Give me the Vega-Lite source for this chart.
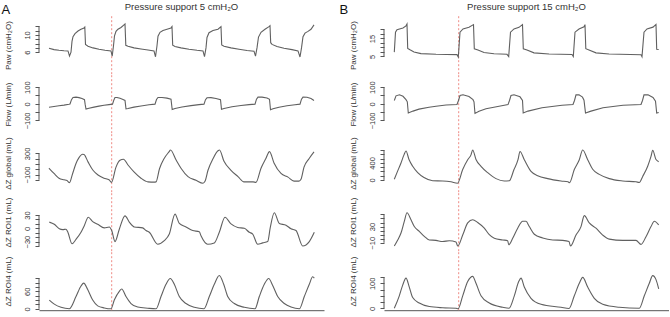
{
  "$schema": "https://vega.github.io/schema/vega-lite/v6.json",
  "background": "white",
  "padding": {"left": 1, "top": 2, "right": 0, "bottom": 0},
  "config": {
    "font": "Liberation Sans",
    "view": {"stroke": null},
    "axis": {"grid": false, "labelFont": "Liberation Sans", "titleFont": "Liberation Sans", "labelFontSize": 7.5, "titleFontSize": 8, "labelColor": "#333", "titleColor": "#333", "titleFontWeight": "normal", "tickColor": "#555", "domainColor": "#555", "labelOverlap": false, "labelFlush": false},
    "axisY": {"labelAngle": -90, "labelAlign": "center", "labelBaseline": "bottom", "tickSize": 4, "labelPadding": 3.5, "titlePadding": 11, "domain": false},
    "axisX": {"ticks": false, "labels": false, "domain": true},
    "title": {"font": "Liberation Sans", "fontWeight": "normal", "color": "#222"}
  },
  "datasets": {
    "A": [
      {"s":"paw","t":0.0,"v":6.9},{"s":"paw","t":0.5,"v":6.6},{"s":"paw","t":1.0,"v":6.45},{"s":"paw","t":1.5,"v":6.35},{"s":"paw","t":1.9,"v":6.3},{"s":"paw","t":2.05,"v":5.1},{"s":"paw","t":2.2,"v":6.0},{"s":"paw","t":2.3,"v":8.5},{"s":"paw","t":2.4,"v":9.6},{"s":"paw","t":2.6,"v":10.3},{"s":"paw","t":2.9,"v":10.9},{"s":"paw","t":3.2,"v":11.3},{"s":"paw","t":3.5,"v":11.6},{"s":"paw","t":3.58,"v":11.8},{"s":"paw","t":3.65,"v":7.8},{"s":"paw","t":3.9,"v":7.4},{"s":"paw","t":4.4,"v":7.0},{"s":"paw","t":5.0,"v":6.7},{"s":"paw","t":5.6,"v":6.45},{"s":"paw","t":6.2,"v":6.3},{"s":"paw","t":6.32,"v":5.1},{"s":"paw","t":6.45,"v":7.5},{"s":"paw","t":6.55,"v":9.8},{"s":"paw","t":6.7,"v":10.8},{"s":"paw","t":6.9,"v":11.3},{"s":"paw","t":7.2,"v":11.7},{"s":"paw","t":7.5,"v":12.3},{"s":"paw","t":7.6,"v":12.5},{"s":"paw","t":7.68,"v":7.6},{"s":"paw","t":7.9,"v":7.4},{"s":"paw","t":8.5,"v":7.0},{"s":"paw","t":9.2,"v":6.75},{"s":"paw","t":9.9,"v":6.5},{"s":"paw","t":10.5,"v":6.3},{"s":"paw","t":10.65,"v":4.95},{"s":"paw","t":10.8,"v":7.5},{"s":"paw","t":10.9,"v":9.7},{"s":"paw","t":11.1,"v":10.6},{"s":"paw","t":11.4,"v":11.0},{"s":"paw","t":11.8,"v":11.3},{"s":"paw","t":12.2,"v":11.6},{"s":"paw","t":12.3,"v":11.9},{"s":"paw","t":12.37,"v":7.6},{"s":"paw","t":12.6,"v":7.3},{"s":"paw","t":13.2,"v":7.0},{"s":"paw","t":14.0,"v":6.7},{"s":"paw","t":14.8,"v":6.45},{"s":"paw","t":15.4,"v":6.3},{"s":"paw","t":15.55,"v":5.0},{"s":"paw","t":15.7,"v":7.0},{"s":"paw","t":15.8,"v":9.4},{"s":"paw","t":16.0,"v":10.5},{"s":"paw","t":16.4,"v":11.0},{"s":"paw","t":16.9,"v":11.3},{"s":"paw","t":17.2,"v":11.9},{"s":"paw","t":17.27,"v":7.7},{"s":"paw","t":17.5,"v":7.4},{"s":"paw","t":18.2,"v":7.0},{"s":"paw","t":19.0,"v":6.7},{"s":"paw","t":19.8,"v":6.4},{"s":"paw","t":20.5,"v":6.25},{"s":"paw","t":20.65,"v":5.1},{"s":"paw","t":20.8,"v":7.0},{"s":"paw","t":20.95,"v":9.5},{"s":"paw","t":21.2,"v":10.6},{"s":"paw","t":21.6,"v":11.3},{"s":"paw","t":22.0,"v":11.9},{"s":"paw","t":22.1,"v":12.1},{"s":"paw","t":22.17,"v":8.2},{"s":"paw","t":22.3,"v":7.8},{"s":"paw","t":22.8,"v":7.3},{"s":"paw","t":23.5,"v":6.9},{"s":"paw","t":24.3,"v":6.6},{"s":"paw","t":24.9,"v":6.3},{"s":"paw","t":25.1,"v":4.9},{"s":"paw","t":25.25,"v":7.0},{"s":"paw","t":25.4,"v":9.6},{"s":"paw","t":25.6,"v":10.4},{"s":"paw","t":25.9,"v":10.8},{"s":"paw","t":26.2,"v":11.3},{"s":"paw","t":26.5,"v":12.3},

      {"s":"flow","t":0.0,"v":-21},{"s":"flow","t":0.5,"v":-16},{"s":"flow","t":1.0,"v":-12},{"s":"flow","t":1.5,"v":-8},{"s":"flow","t":2.0,"v":-3},{"s":"flow","t":2.1,"v":-1},{"s":"flow","t":2.25,"v":25},{"s":"flow","t":2.4,"v":38},{"s":"flow","t":2.7,"v":40},{"s":"flow","t":3.0,"v":37},{"s":"flow","t":3.3,"v":32},{"s":"flow","t":3.55,"v":25},{"s":"flow","t":3.62,"v":-5},{"s":"flow","t":3.7,"v":-32},{"s":"flow","t":4.0,"v":-27},{"s":"flow","t":4.5,"v":-20},{"s":"flow","t":5.0,"v":-14},{"s":"flow","t":5.5,"v":-9},{"s":"flow","t":6.0,"v":-5},{"s":"flow","t":6.35,"v":-2},{"s":"flow","t":6.5,"v":25},{"s":"flow","t":6.6,"v":38},{"s":"flow","t":6.8,"v":38},{"s":"flow","t":7.1,"v":33},{"s":"flow","t":7.4,"v":26},{"s":"flow","t":7.6,"v":20},{"s":"flow","t":7.7,"v":-30},{"s":"flow","t":7.9,"v":-28},{"s":"flow","t":8.5,"v":-20},{"s":"flow","t":9.2,"v":-13},{"s":"flow","t":10.0,"v":-6},{"s":"flow","t":10.6,"v":-2},{"s":"flow","t":10.75,"v":26},{"s":"flow","t":10.9,"v":38},{"s":"flow","t":11.3,"v":38},{"s":"flow","t":11.8,"v":34},{"s":"flow","t":12.2,"v":28},{"s":"flow","t":12.32,"v":-34},{"s":"flow","t":12.6,"v":-28},{"s":"flow","t":13.3,"v":-19},{"s":"flow","t":14.2,"v":-11},{"s":"flow","t":15.0,"v":-5},{"s":"flow","t":15.5,"v":-2},{"s":"flow","t":15.65,"v":25},{"s":"flow","t":15.8,"v":36},{"s":"flow","t":16.2,"v":37},{"s":"flow","t":16.7,"v":32},{"s":"flow","t":17.15,"v":25},{"s":"flow","t":17.25,"v":-33},{"s":"flow","t":17.5,"v":-28},{"s":"flow","t":18.3,"v":-18},{"s":"flow","t":19.2,"v":-10},{"s":"flow","t":20.0,"v":-5},{"s":"flow","t":20.6,"v":-2},{"s":"flow","t":20.75,"v":28},{"s":"flow","t":20.9,"v":40},{"s":"flow","t":21.3,"v":40},{"s":"flow","t":21.8,"v":35},{"s":"flow","t":22.05,"v":27},{"s":"flow","t":22.15,"v":-36},{"s":"flow","t":22.4,"v":-30},{"s":"flow","t":23.0,"v":-21},{"s":"flow","t":23.8,"v":-12},{"s":"flow","t":24.6,"v":-6},{"s":"flow","t":25.1,"v":-2},{"s":"flow","t":25.25,"v":28},{"s":"flow","t":25.4,"v":40},{"s":"flow","t":25.8,"v":39},{"s":"flow","t":26.2,"v":32},{"s":"flow","t":26.5,"v":20},

      {"s":"glob","t":0.0,"v":20},{"s":"glob","t":0.5,"v":-80},{"s":"glob","t":1.0,"v":-170},{"s":"glob","t":1.5,"v":-200},{"s":"glob","t":1.8,"v":-215},{"s":"glob","t":2.05,"v":-255},{"s":"glob","t":2.35,"v":-90},{"s":"glob","t":2.7,"v":110},{"s":"glob","t":3.0,"v":220},{"s":"glob","t":3.35,"v":285},{"s":"glob","t":3.5,"v":280},{"s":"glob","t":3.9,"v":140},{"s":"glob","t":4.4,"v":-20},{"s":"glob","t":4.9,"v":-110},{"s":"glob","t":5.5,"v":-170},{"s":"glob","t":6.0,"v":-200},{"s":"glob","t":6.25,"v":-250},{"s":"glob","t":6.7,"v":40},{"s":"glob","t":7.1,"v":170},{"s":"glob","t":7.45,"v":190},{"s":"glob","t":7.9,"v":80},{"s":"glob","t":8.5,"v":-50},{"s":"glob","t":9.2,"v":-170},{"s":"glob","t":9.9,"v":-240},{"s":"glob","t":10.5,"v":-245},{"s":"glob","t":10.7,"v":-240},{"s":"glob","t":11.05,"v":10},{"s":"glob","t":11.5,"v":200},{"s":"glob","t":12.0,"v":330},{"s":"glob","t":12.15,"v":365},{"s":"glob","t":12.7,"v":180},{"s":"glob","t":13.2,"v":20},{"s":"glob","t":13.9,"v":-140},{"s":"glob","t":14.7,"v":-210},{"s":"glob","t":15.4,"v":-265},{"s":"glob","t":15.6,"v":-230},{"s":"glob","t":15.9,"v":-20},{"s":"glob","t":16.4,"v":200},{"s":"glob","t":16.9,"v":350},{"s":"glob","t":17.05,"v":365},{"s":"glob","t":17.5,"v":150},{"s":"glob","t":18.2,"v":-20},{"s":"glob","t":18.9,"v":-140},{"s":"glob","t":19.5,"v":-240},{"s":"glob","t":20.4,"v":-240},{"s":"glob","t":20.7,"v":-250},{"s":"glob","t":21.2,"v":20},{"s":"glob","t":21.7,"v":210},{"s":"glob","t":22.05,"v":335},{"s":"glob","t":22.5,"v":120},{"s":"glob","t":23.2,"v":-80},{"s":"glob","t":23.9,"v":-150},{"s":"glob","t":24.5,"v":-225},{"s":"glob","t":25.0,"v":-225},{"s":"glob","t":25.2,"v":-190},{"s":"glob","t":25.5,"v":40},{"s":"glob","t":26.0,"v":200},{"s":"glob","t":26.5,"v":330},

      {"s":"roi1","t":0.03,"v":14},{"s":"roi1","t":0.53,"v":9},{"s":"roi1","t":1.03,"v":-1},{"s":"roi1","t":1.37,"v":-3},{"s":"roi1","t":1.7,"v":-2},{"s":"roi1","t":1.87,"v":-8},{"s":"roi1","t":2.3,"v":-35},{"s":"roi1","t":2.7,"v":-25},{"s":"roi1","t":3.2,"v":-9},{"s":"roi1","t":3.53,"v":6},{"s":"roi1","t":3.93,"v":25},{"s":"roi1","t":4.37,"v":15},{"s":"roi1","t":4.87,"v":9},{"s":"roi1","t":5.53,"v":1},{"s":"roi1","t":6.03,"v":3},{"s":"roi1","t":6.27,"v":-5},{"s":"roi1","t":6.6,"v":-30},{"s":"roi1","t":7.03,"v":-2},{"s":"roi1","t":7.6,"v":28},{"s":"roi1","t":8.03,"v":14},{"s":"roi1","t":8.53,"v":3},{"s":"roi1","t":9.37,"v":1},{"s":"roi1","t":9.7,"v":-5},{"s":"roi1","t":10.03,"v":-9},{"s":"roi1","t":10.87,"v":-36},{"s":"roi1","t":11.53,"v":-28},{"s":"roi1","t":12.03,"v":-13},{"s":"roi1","t":12.6,"v":32},{"s":"roi1","t":13.03,"v":11},{"s":"roi1","t":13.7,"v":3},{"s":"roi1","t":14.37,"v":-5},{"s":"roi1","t":15.03,"v":-8},{"s":"roi1","t":15.2,"v":-17},{"s":"roi1","t":15.87,"v":-36},{"s":"roi1","t":16.53,"v":-33},{"s":"roi1","t":17.03,"v":-9},{"s":"roi1","t":17.6,"v":25},{"s":"roi1","t":18.2,"v":10},{"s":"roi1","t":18.87,"v":2},{"s":"roi1","t":19.53,"v":0},{"s":"roi1","t":20.03,"v":-9},{"s":"roi1","t":20.37,"v":-13},{"s":"roi1","t":20.87,"v":-36},{"s":"roi1","t":21.37,"v":-33},{"s":"roi1","t":21.87,"v":-30},{"s":"roi1","t":22.13,"v":2},{"s":"roi1","t":22.53,"v":35},{"s":"roi1","t":23.03,"v":11},{"s":"roi1","t":23.7,"v":7},{"s":"roi1","t":24.2,"v":-1},{"s":"roi1","t":24.7,"v":-5},{"s":"roi1","t":25.37,"v":-40},{"s":"roi1","t":26.03,"v":-30},{"s":"roi1","t":26.53,"v":-9},

      {"s":"roi4","t":0.03,"v":30},{"s":"roi4","t":0.53,"v":16},{"s":"roi4","t":1.2,"v":5},{"s":"roi4","t":2.03,"v":0},{"s":"roi4","t":2.7,"v":42},{"s":"roi4","t":3.2,"v":78},{"s":"roi4","t":3.47,"v":88},{"s":"roi4","t":3.87,"v":66},{"s":"roi4","t":4.37,"v":30},{"s":"roi4","t":4.87,"v":10},{"s":"roi4","t":5.53,"v":3},{"s":"roi4","t":6.2,"v":0},{"s":"roi4","t":6.53,"v":30},{"s":"roi4","t":7.03,"v":60},{"s":"roi4","t":7.27,"v":68},{"s":"roi4","t":7.7,"v":42},{"s":"roi4","t":8.2,"v":18},{"s":"roi4","t":8.87,"v":6},{"s":"roi4","t":9.87,"v":2},{"s":"roi4","t":10.7,"v":0},{"s":"roi4","t":11.2,"v":42},{"s":"roi4","t":11.7,"v":84},{"s":"roi4","t":12.13,"v":104},{"s":"roi4","t":12.53,"v":84},{"s":"roi4","t":13.03,"v":42},{"s":"roi4","t":13.7,"v":18},{"s":"roi4","t":14.53,"v":5},{"s":"roi4","t":15.5,"v":0},{"s":"roi4","t":16.03,"v":42},{"s":"roi4","t":16.53,"v":84},{"s":"roi4","t":17.03,"v":114},{"s":"roi4","t":17.47,"v":84},{"s":"roi4","t":17.87,"v":42},{"s":"roi4","t":18.53,"v":18},{"s":"roi4","t":19.53,"v":5},{"s":"roi4","t":20.6,"v":0},{"s":"roi4","t":21.03,"v":42},{"s":"roi4","t":21.53,"v":84},{"s":"roi4","t":21.97,"v":104},{"s":"roi4","t":22.37,"v":80},{"s":"roi4","t":22.87,"v":42},{"s":"roi4","t":23.53,"v":18},{"s":"roi4","t":24.2,"v":6},{"s":"roi4","t":25.03,"v":0},{"s":"roi4","t":25.53,"v":42},{"s":"roi4","t":26.03,"v":84},{"s":"roi4","t":26.37,"v":110},{"s":"roi4","t":26.53,"v":105}
    ],
    "B": [
      {"s":"paw","t":0.03,"v":7.4},{"s":"paw","t":0.15,"v":18.5},{"s":"paw","t":0.3,"v":19.9},{"s":"paw","t":0.9,"v":20.8},{"s":"paw","t":1.2,"v":22.0},{"s":"paw","t":1.3,"v":23.0},{"s":"paw","t":1.37,"v":9.5},{"s":"paw","t":1.6,"v":8.7},{"s":"paw","t":2.0,"v":7.5},{"s":"paw","t":2.7,"v":6.6},{"s":"paw","t":4.2,"v":6.2},{"s":"paw","t":6.3,"v":6.0},{"s":"paw","t":6.43,"v":4.7},{"s":"paw","t":6.6,"v":18.5},{"s":"paw","t":6.9,"v":20.3},{"s":"paw","t":7.5,"v":21.2},{"s":"paw","t":7.95,"v":22.7},{"s":"paw","t":8.03,"v":9.3},{"s":"paw","t":8.4,"v":8.6},{"s":"paw","t":9.0,"v":7.2},{"s":"paw","t":10.0,"v":6.5},{"s":"paw","t":11.3,"v":6.2},{"s":"paw","t":11.47,"v":5.0},{"s":"paw","t":11.65,"v":18.5},{"s":"paw","t":12.0,"v":20.3},{"s":"paw","t":12.5,"v":21.2},{"s":"paw","t":12.85,"v":22.7},{"s":"paw","t":12.93,"v":9.3},{"s":"paw","t":13.3,"v":8.6},{"s":"paw","t":14.0,"v":7.0},{"s":"paw","t":15.5,"v":6.4},{"s":"paw","t":17.8,"v":6.1},{"s":"paw","t":17.93,"v":5.0},{"s":"paw","t":18.1,"v":18.5},{"s":"paw","t":18.5,"v":20.3},{"s":"paw","t":19.0,"v":21.5},{"s":"paw","t":19.1,"v":22.7},{"s":"paw","t":19.18,"v":9.3},{"s":"paw","t":19.5,"v":8.6},{"s":"paw","t":20.2,"v":7.0},{"s":"paw","t":21.5,"v":6.4},{"s":"paw","t":24.7,"v":6.0},{"s":"paw","t":24.8,"v":4.9},{"s":"paw","t":25.0,"v":18.5},{"s":"paw","t":25.3,"v":20.3},{"s":"paw","t":25.9,"v":21.3},{"s":"paw","t":26.2,"v":22.8},{"s":"paw","t":26.27,"v":9.0},{"s":"paw","t":26.47,"v":8.9},

      {"s":"flow","t":0.03,"v":20},{"s":"flow","t":0.2,"v":48},{"s":"flow","t":0.55,"v":54},{"s":"flow","t":0.9,"v":45},{"s":"flow","t":1.2,"v":25},{"s":"flow","t":1.33,"v":12},{"s":"flow","t":1.43,"v":-55},{"s":"flow","t":1.9,"v":-44},{"s":"flow","t":2.5,"v":-32},{"s":"flow","t":3.5,"v":-21},{"s":"flow","t":4.2,"v":-15},{"s":"flow","t":5.2,"v":-7},{"s":"flow","t":6.3,"v":-4},{"s":"flow","t":6.45,"v":20},{"s":"flow","t":6.6,"v":50},{"s":"flow","t":6.9,"v":54},{"s":"flow","t":7.5,"v":44},{"s":"flow","t":7.9,"v":25},{"s":"flow","t":8.0,"v":12},{"s":"flow","t":8.1,"v":-58},{"s":"flow","t":8.5,"v":-45},{"s":"flow","t":9.2,"v":-30},{"s":"flow","t":10.9,"v":-10},{"s":"flow","t":11.4,"v":-5},{"s":"flow","t":11.55,"v":20},{"s":"flow","t":11.7,"v":50},{"s":"flow","t":12.0,"v":54},{"s":"flow","t":12.6,"v":42},{"s":"flow","t":12.85,"v":20},{"s":"flow","t":12.92,"v":-55},{"s":"flow","t":13.4,"v":-44},{"s":"flow","t":14.8,"v":-24},{"s":"flow","t":16.8,"v":-9},{"s":"flow","t":17.9,"v":-4},{"s":"flow","t":18.05,"v":20},{"s":"flow","t":18.2,"v":54},{"s":"flow","t":18.5,"v":54},{"s":"flow","t":18.85,"v":40},{"s":"flow","t":19.0,"v":22},{"s":"flow","t":19.15,"v":-55},{"s":"flow","t":19.7,"v":-44},{"s":"flow","t":20.9,"v":-24},{"s":"flow","t":22.9,"v":-9},{"s":"flow","t":24.7,"v":-4},{"s":"flow","t":24.85,"v":20},{"s":"flow","t":25.0,"v":54},{"s":"flow","t":25.4,"v":54},{"s":"flow","t":25.9,"v":38},{"s":"flow","t":26.15,"v":15},{"s":"flow","t":26.27,"v":-56},{"s":"flow","t":26.47,"v":-52},

      {"s":"glob","t":0.03,"v":15},{"s":"glob","t":0.35,"v":200},{"s":"glob","t":0.7,"v":400},{"s":"glob","t":1.0,"v":590},{"s":"glob","t":1.2,"v":680},{"s":"glob","t":1.5,"v":480},{"s":"glob","t":1.87,"v":320},{"s":"glob","t":2.37,"v":170},{"s":"glob","t":3.0,"v":55},{"s":"glob","t":3.87,"v":-20},{"s":"glob","t":4.87,"v":-25},{"s":"glob","t":5.7,"v":-45},{"s":"glob","t":6.35,"v":-78},{"s":"glob","t":6.87,"v":245},{"s":"glob","t":7.37,"v":476},{"s":"glob","t":7.7,"v":590},{"s":"glob","t":7.87,"v":705},{"s":"glob","t":8.2,"v":480},{"s":"glob","t":8.7,"v":320},{"s":"glob","t":9.37,"v":170},{"s":"glob","t":10.2,"v":30},{"s":"glob","t":11.03,"v":-25},{"s":"glob","t":11.53,"v":-20},{"s":"glob","t":12.0,"v":245},{"s":"glob","t":12.4,"v":476},{"s":"glob","t":12.6,"v":670},{"s":"glob","t":13.03,"v":476},{"s":"glob","t":13.7,"v":200},{"s":"glob","t":14.37,"v":100},{"s":"glob","t":15.37,"v":30},{"s":"glob","t":16.7,"v":-25},{"s":"glob","t":17.4,"v":-45},{"s":"glob","t":17.55,"v":-65},{"s":"glob","t":18.03,"v":245},{"s":"glob","t":18.53,"v":476},{"s":"glob","t":18.87,"v":705},{"s":"glob","t":19.37,"v":476},{"s":"glob","t":19.87,"v":250},{"s":"glob","t":20.53,"v":130},{"s":"glob","t":21.53,"v":30},{"s":"glob","t":22.87,"v":-25},{"s":"glob","t":24.2,"v":-45},{"s":"glob","t":24.53,"v":-60},{"s":"glob","t":24.87,"v":82},{"s":"glob","t":25.37,"v":323},{"s":"glob","t":25.7,"v":553},{"s":"glob","t":25.87,"v":700},{"s":"glob","t":26.2,"v":480},{"s":"glob","t":26.47,"v":430},

      {"s":"roi1","t":0.03,"v":-18},{"s":"roi1","t":0.37,"v":-3},{"s":"roi1","t":0.7,"v":14},{"s":"roi1","t":1.03,"v":43},{"s":"roi1","t":1.3,"v":64},{"s":"roi1","t":1.7,"v":47},{"s":"roi1","t":2.03,"v":30},{"s":"roi1","t":2.53,"v":18},{"s":"roi1","t":3.03,"v":6},{"s":"roi1","t":3.53,"v":-3},{"s":"roi1","t":4.2,"v":-4},{"s":"roi1","t":4.87,"v":-7},{"s":"roi1","t":5.53,"v":-5},{"s":"roi1","t":6.2,"v":-8},{"s":"roi1","t":6.37,"v":-18},{"s":"roi1","t":6.87,"v":9},{"s":"roi1","t":7.37,"v":39},{"s":"roi1","t":7.87,"v":47},{"s":"roi1","t":8.37,"v":40},{"s":"roi1","t":9.03,"v":26},{"s":"roi1","t":9.53,"v":10},{"s":"roi1","t":10.03,"v":1},{"s":"roi1","t":10.87,"v":-3},{"s":"roi1","t":11.37,"v":-5},{"s":"roi1","t":11.47,"v":-15},{"s":"roi1","t":11.87,"v":1},{"s":"roi1","t":12.37,"v":26},{"s":"roi1","t":12.87,"v":43},{"s":"roi1","t":13.2,"v":43},{"s":"roi1","t":13.53,"v":30},{"s":"roi1","t":14.03,"v":11},{"s":"roi1","t":14.87,"v":2},{"s":"roi1","t":15.87,"v":-3},{"s":"roi1","t":16.87,"v":-4},{"s":"roi1","t":17.5,"v":-7},{"s":"roi1","t":17.65,"v":-18},{"s":"roi1","t":18.2,"v":9},{"s":"roi1","t":18.7,"v":30},{"s":"roi1","t":19.03,"v":57},{"s":"roi1","t":19.53,"v":39},{"s":"roi1","t":20.2,"v":26},{"s":"roi1","t":20.87,"v":9},{"s":"roi1","t":21.53,"v":-1},{"s":"roi1","t":22.87,"v":-4},{"s":"roi1","t":24.2,"v":-4},{"s":"roi1","t":24.7,"v":-14},{"s":"roi1","t":25.2,"v":5},{"s":"roi1","t":25.7,"v":30},{"s":"roi1","t":26.03,"v":43},{"s":"roi1","t":26.47,"v":34},

      {"s":"roi4","t":0.03,"v":0},{"s":"roi4","t":0.53,"v":50},{"s":"roi4","t":0.87,"v":93},{"s":"roi4","t":1.2,"v":121},{"s":"roi4","t":1.53,"v":85},{"s":"roi4","t":1.87,"v":43},{"s":"roi4","t":2.53,"v":21},{"s":"roi4","t":3.53,"v":7},{"s":"roi4","t":4.87,"v":2},{"s":"roi4","t":6.2,"v":0},{"s":"roi4","t":6.4,"v":-2},{"s":"roi4","t":6.87,"v":50},{"s":"roi4","t":7.37,"v":107},{"s":"roi4","t":7.87,"v":128},{"s":"roi4","t":8.2,"v":100},{"s":"roi4","t":8.7,"v":50},{"s":"roi4","t":9.53,"v":21},{"s":"roi4","t":10.87,"v":4},{"s":"roi4","t":11.5,"v":0},{"s":"roi4","t":12.03,"v":50},{"s":"roi4","t":12.47,"v":107},{"s":"roi4","t":12.7,"v":121},{"s":"roi4","t":13.03,"v":85},{"s":"roi4","t":13.7,"v":40},{"s":"roi4","t":14.7,"v":16},{"s":"roi4","t":16.7,"v":4},{"s":"roi4","t":17.5,"v":-1},{"s":"roi4","t":18.03,"v":50},{"s":"roi4","t":18.53,"v":100},{"s":"roi4","t":18.87,"v":124},{"s":"roi4","t":19.37,"v":85},{"s":"roi4","t":20.03,"v":40},{"s":"roi4","t":20.87,"v":16},{"s":"roi4","t":22.53,"v":4},{"s":"roi4","t":24.53,"v":0},{"s":"roi4","t":25.03,"v":50},{"s":"roi4","t":25.53,"v":100},{"s":"roi4","t":25.87,"v":131},{"s":"roi4","t":26.2,"v":115},{"s":"roi4","t":26.47,"v":78}
    ]
  },
  "hconcat": [
    {
      "title": {"text": "A", "anchor": "start", "frame": "bounds", "fontSize": 13, "color": "#111", "offset": -15, "dx": -3},
      "spacing": 0,
      "bounds": "flush",
      "vconcat": [
        {
          "width": 285, "height": 58.2,
          "title": {"text": "Pressure support 5 cmH₂O", "fontSize": 9.5, "anchor": "middle", "offset": 4, "color": "#333"},
          "encoding": {
            "x": {"field": "t", "type": "quantitative", "scale": {"domain": [-1, 27.5], "nice": false, "zero": false}, "axis": null},
            "y": {"field": "v", "type": "quantitative", "scale": {"domain": [0.94, 14.35], "nice": false, "zero": false},
                  "axis": {"title": "Paw (cmH₂O)", "values": [6, 7, 8, 9, 10, 11, 12], "labelExpr": "datum.value == 6 || datum.value == 10 ? datum.label : ''"}}
          },
          "layer": [
            {"data": {"values": [{"t": 6.27, "v": 0.94, "v2": 14.35}]}, "mark": {"type": "rule", "color": "#ef8a84", "strokeDash": [2, 2], "strokeWidth": 1}, "encoding": {"y2": {"field": "v2"}}},
            {"data": {"name": "A"}, "transform": [{"filter": "datum.s === 'paw'"}], "mark": {"type": "line", "color": "#606060", "strokeWidth": 1.1}},
            {"data": {"values": [{"t": -1, "v": 6, "v2": 12}]}, "mark": {"type": "rule", "color": "#555"}, "encoding": {"y2": {"field": "v2"}}}
          ]
        },
        {
          "width": 285, "height": 58.2,
          "encoding": {
            "x": {"field": "t", "type": "quantitative", "scale": {"domain": [-1, 27.5], "nice": false, "zero": false}, "axis": null},
            "y": {"field": "v", "type": "quantitative", "scale": {"domain": [-177, 173.4], "nice": false, "zero": false},
                  "axis": {"title": "Flow (L/min)", "values": [-100, -50, 0, 50, 100], "labelExpr": "datum.value == -100 || datum.value == 0 || datum.value == 100 ? datum.label : ''"}}
          },
          "layer": [
            {"data": {"values": [{"t": 6.27, "v": -177, "v2": 173.4}]}, "mark": {"type": "rule", "color": "#ef8a84", "strokeDash": [2, 2], "strokeWidth": 1}, "encoding": {"y2": {"field": "v2"}}},
            {"data": {"name": "A"}, "transform": [{"filter": "datum.s === 'flow'"}], "mark": {"type": "line", "color": "#606060", "strokeWidth": 1.1}},
            {"data": {"values": [{"t": -1, "v": -100, "v2": 100}]}, "mark": {"type": "rule", "color": "#555"}, "encoding": {"y2": {"field": "v2"}}}
          ]
        },
        {
          "width": 285, "height": 58.2,
          "encoding": {
            "x": {"field": "t", "type": "quantitative", "scale": {"domain": [-1, 27.5], "nice": false, "zero": false}, "axis": null},
            "y": {"field": "v", "type": "quantitative", "scale": {"domain": [-436, 669], "nice": false, "zero": false},
                  "axis": {"title": "ΔZ global (mL)", "values": [-200, -100, 0, 100, 200, 300], "labelExpr": "datum.value == -100 || datum.value == 300 ? datum.label : ''"}}
          },
          "layer": [
            {"data": {"values": [{"t": 6.27, "v": -436, "v2": 669}]}, "mark": {"type": "rule", "color": "#ef8a84", "strokeDash": [2, 2], "strokeWidth": 1}, "encoding": {"y2": {"field": "v2"}}},
            {"data": {"name": "A"}, "transform": [{"filter": "datum.s === 'glob'"}], "mark": {"type": "line", "color": "#606060", "strokeWidth": 1.1, "interpolate": "monotone"}},
            {"data": {"values": [{"t": -1, "v": -200, "v2": 300}]}, "mark": {"type": "rule", "color": "#555"}, "encoding": {"y2": {"field": "v2"}}}
          ]
        },
        {
          "width": 285, "height": 58.2,
          "encoding": {
            "x": {"field": "t", "type": "quantitative", "scale": {"domain": [-1, 27.5], "nice": false, "zero": false}, "axis": null},
            "y": {"field": "v", "type": "quantitative", "scale": {"domain": [-51.75, 79.8], "nice": false, "zero": false},
                  "axis": {"title": "ΔZ ROI1 (mL)", "values": [-40, -30, -20, -10, 0, 10, 20, 30], "labelExpr": "datum.value == -30 || datum.value == 0 || datum.value == 30 ? datum.label : ''"}}
          },
          "layer": [
            {"data": {"values": [{"t": 6.27, "v": -51.75, "v2": 79.8}]}, "mark": {"type": "rule", "color": "#ef8a84", "strokeDash": [2, 2], "strokeWidth": 1}, "encoding": {"y2": {"field": "v2"}}},
            {"data": {"name": "A"}, "transform": [{"filter": "datum.s === 'roi1'"}], "mark": {"type": "line", "color": "#606060", "strokeWidth": 1.1, "interpolate": "monotone"}},
            {"data": {"values": [{"t": -1, "v": -40, "v2": 30}]}, "mark": {"type": "rule", "color": "#555"}, "encoding": {"y2": {"field": "v2"}}}
          ]
        },
        {
          "width": 285, "height": 58.2,
          "encoding": {
            "x": {"field": "t", "type": "quantitative", "scale": {"domain": [-1, 27.5], "nice": false, "zero": false}, "axis": {"title": null}},
            "y": {"field": "v", "type": "quantitative", "scale": {"domain": [-4.8, 194.8], "nice": false, "zero": false},
                  "axis": {"title": "ΔZ ROI4 (mL)", "values": [0, 15, 30, 45, 60, 75, 90, 105], "labelExpr": "datum.value == 0 || datum.value == 60 ? datum.label : ''"}}
          },
          "layer": [
            {"data": {"values": [{"t": 6.27, "v": -4.8, "v2": 194.8}]}, "mark": {"type": "rule", "color": "#ef8a84", "strokeDash": [2, 2], "strokeWidth": 1}, "encoding": {"y2": {"field": "v2"}}},
            {"data": {"name": "A"}, "transform": [{"filter": "datum.s === 'roi4'"}], "mark": {"type": "line", "color": "#606060", "strokeWidth": 1.1, "interpolate": "monotone"}},
            {"data": {"values": [{"t": -1, "v": 0, "v2": 105}]}, "mark": {"type": "rule", "color": "#555"}, "encoding": {"y2": {"field": "v2"}}}
          ]
        }
      ]
    },
    {
      "title": {"text": "B", "anchor": "start", "frame": "bounds", "fontSize": 13, "color": "#111", "offset": -15, "dx": -10},
      "spacing": 0,
      "bounds": "flush",
      "vconcat": [
        {
          "width": 285, "height": 58.2,
          "title": {"text": "Pressure support 15 cmH₂O", "fontSize": 9.5, "anchor": "middle", "offset": 4, "color": "#333"},
          "encoding": {
            "x": {"field": "t", "type": "quantitative", "scale": {"domain": [-1, 27.5], "nice": false, "zero": false}, "axis": null},
            "y": {"field": "v", "type": "quantitative", "scale": {"domain": [-4.86, 27.5], "nice": false, "zero": false},
                  "axis": {"title": "Paw (cmH₂O)", "values": [5, 7.5, 10, 12.5, 15, 17.5, 20], "labelExpr": "datum.value == 5 || datum.value == 15 ? datum.label : ''"}}
          },
          "layer": [
            {"data": {"values": [{"t": 6.47, "v": -4.86, "v2": 27.5}]}, "mark": {"type": "rule", "color": "#ef8a84", "strokeDash": [2, 2], "strokeWidth": 1}, "encoding": {"y2": {"field": "v2"}}},
            {"data": {"name": "B"}, "transform": [{"filter": "datum.s === 'paw'"}], "mark": {"type": "line", "color": "#606060", "strokeWidth": 1.1}},
            {"data": {"values": [{"t": -1, "v": 5, "v2": 20}]}, "mark": {"type": "rule", "color": "#555"}, "encoding": {"y2": {"field": "v2"}}}
          ]
        },
        {
          "width": 285, "height": 58.2,
          "encoding": {
            "x": {"field": "t", "type": "quantitative", "scale": {"domain": [-1, 27.5], "nice": false, "zero": false}, "axis": null},
            "y": {"field": "v", "type": "quantitative", "scale": {"domain": [-177, 173.4], "nice": false, "zero": false},
                  "axis": {"title": "Flow (L/min)", "values": [-100, -50, 0, 50, 100], "labelExpr": "datum.value == -100 || datum.value == 0 || datum.value == 100 ? datum.label : ''"}}
          },
          "layer": [
            {"data": {"values": [{"t": 6.47, "v": -177, "v2": 173.4}]}, "mark": {"type": "rule", "color": "#ef8a84", "strokeDash": [2, 2], "strokeWidth": 1}, "encoding": {"y2": {"field": "v2"}}},
            {"data": {"name": "B"}, "transform": [{"filter": "datum.s === 'flow'"}], "mark": {"type": "line", "color": "#606060", "strokeWidth": 1.1}},
            {"data": {"values": [{"t": -1, "v": -100, "v2": 100}]}, "mark": {"type": "rule", "color": "#555"}, "encoding": {"y2": {"field": "v2"}}}
          ]
        },
        {
          "width": 285, "height": 58.2,
          "encoding": {
            "x": {"field": "t", "type": "quantitative", "scale": {"domain": [-1, 27.5], "nice": false, "zero": false}, "axis": null},
            "y": {"field": "v", "type": "quantitative", "scale": {"domain": [-290, 1082], "nice": false, "zero": false},
                  "axis": {"title": "ΔZ global (mL)", "values": [0, 100, 200, 300, 400, 500, 600, 700], "labelExpr": "datum.value == 0 || datum.value == 400 ? datum.label : ''"}}
          },
          "layer": [
            {"data": {"values": [{"t": 6.47, "v": -290, "v2": 1082}]}, "mark": {"type": "rule", "color": "#ef8a84", "strokeDash": [2, 2], "strokeWidth": 1}, "encoding": {"y2": {"field": "v2"}}},
            {"data": {"name": "B"}, "transform": [{"filter": "datum.s === 'glob'"}], "mark": {"type": "line", "color": "#606060", "strokeWidth": 1.1, "interpolate": "monotone"}},
            {"data": {"values": [{"t": -1, "v": 0, "v2": 700}]}, "mark": {"type": "rule", "color": "#555"}, "encoding": {"y2": {"field": "v2"}}}
          ]
        },
        {
          "width": 285, "height": 58.2,
          "encoding": {
            "x": {"field": "t", "type": "quantitative", "scale": {"domain": [-1, 27.5], "nice": false, "zero": false}, "axis": null},
            "y": {"field": "v", "type": "quantitative", "scale": {"domain": [-30.8, 112.9], "nice": false, "zero": false},
                  "axis": {"title": "ΔZ ROI1 (mL)", "values": [-10, 0, 10, 20, 30, 40, 50, 60], "labelExpr": "datum.value == -10 || datum.value == 30 ? datum.label : ''"}}
          },
          "layer": [
            {"data": {"values": [{"t": 6.47, "v": -30.8, "v2": 112.9}]}, "mark": {"type": "rule", "color": "#ef8a84", "strokeDash": [2, 2], "strokeWidth": 1}, "encoding": {"y2": {"field": "v2"}}},
            {"data": {"name": "B"}, "transform": [{"filter": "datum.s === 'roi1'"}], "mark": {"type": "line", "color": "#606060", "strokeWidth": 1.1, "interpolate": "monotone"}},
            {"data": {"values": [{"t": -1, "v": -10, "v2": 60}]}, "mark": {"type": "rule", "color": "#555"}, "encoding": {"y2": {"field": "v2"}}}
          ]
        },
        {
          "width": 285, "height": 58.2,
          "encoding": {
            "x": {"field": "t", "type": "quantitative", "scale": {"domain": [-1, 27.5], "nice": false, "zero": false}, "axis": {"title": null}},
            "y": {"field": "v", "type": "quantitative", "scale": {"domain": [-7.6, 225.5], "nice": false, "zero": false},
                  "axis": {"title": "ΔZ ROI4 (mL)", "values": [0, 25, 50, 75, 100, 125], "labelExpr": "datum.value == 0 || datum.value == 100 ? datum.label : ''"}}
          },
          "layer": [
            {"data": {"values": [{"t": 6.47, "v": -7.6, "v2": 225.5}]}, "mark": {"type": "rule", "color": "#ef8a84", "strokeDash": [2, 2], "strokeWidth": 1}, "encoding": {"y2": {"field": "v2"}}},
            {"data": {"name": "B"}, "transform": [{"filter": "datum.s === 'roi4'"}], "mark": {"type": "line", "color": "#606060", "strokeWidth": 1.1, "interpolate": "monotone"}},
            {"data": {"values": [{"t": -1, "v": 0, "v2": 125}]}, "mark": {"type": "rule", "color": "#555"}, "encoding": {"y2": {"field": "v2"}}}
          ]
        }
      ]
    }
  ],
  "spacing": 15
}
